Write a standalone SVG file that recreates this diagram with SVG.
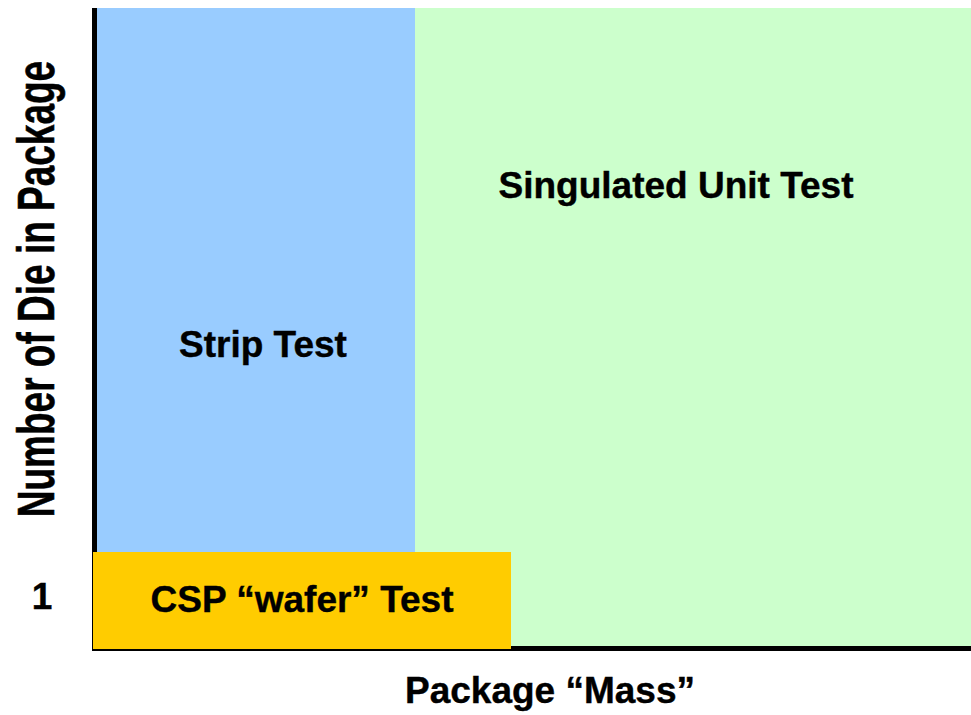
<svg xmlns="http://www.w3.org/2000/svg" width="971" height="715" viewBox="0 0 971 715">
<style>
  .t { font-family: "Liberation Sans", Arial, sans-serif; font-weight: bold; font-size: 37px; fill: #000; stroke: #000; stroke-width: 0.4; text-anchor: middle; }
</style>
<rect x="0" y="0" width="971" height="715" fill="#fff"/>
<g id="singulated">
  <rect x="415" y="8" width="556" height="639" fill="#CCFFCC"/>
  <text class="t" x="676" y="198">Singulated Unit Test</text>
</g>
<g id="strip">
  <rect x="96" y="8" width="319" height="545" fill="#99CCFF"/>
  <text class="t" x="263" y="357">Strip Test</text>
</g>
<g id="axes">
  <rect x="92" y="8" width="5" height="643" fill="#000"/>
  <rect x="92" y="646" width="879" height="5" fill="#000"/>
</g>
<g id="csp">
  <rect x="93" y="552" width="418" height="97" fill="#FFCC00"/>
  <text class="t" x="302" y="612">CSP “wafer” Test</text>
</g>
<g id="labels">
  <text class="t" x="550" y="703">Package “Mass”</text>
  <text class="t" x="42" y="609">1</text>
  <text class="t" transform="translate(54,289) rotate(-90) scale(1,1.38)" x="0" y="0">Number of Die in Package</text>
</g>
</svg>
